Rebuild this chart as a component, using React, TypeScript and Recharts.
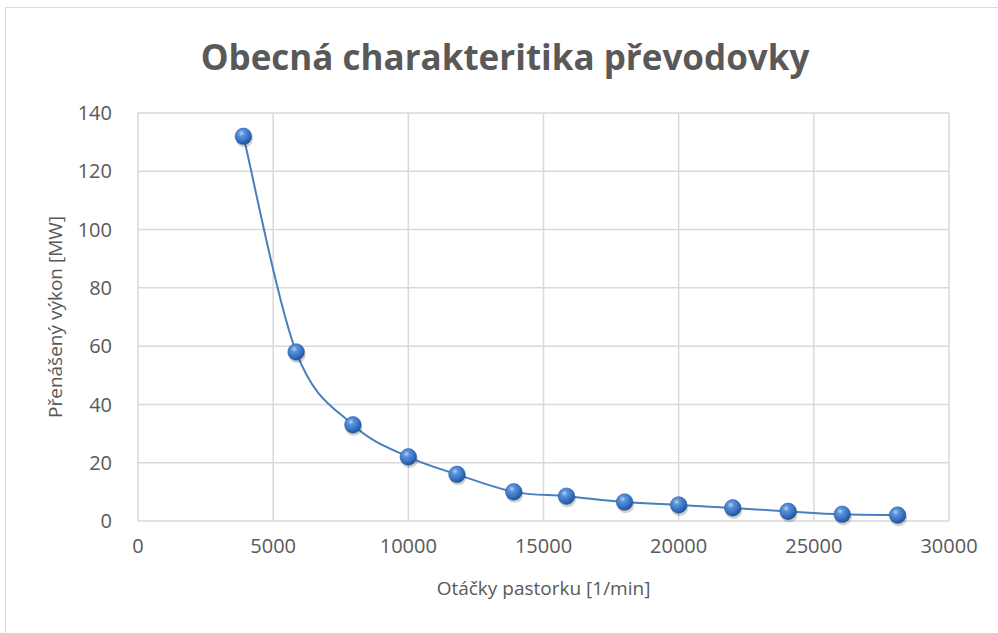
import React from "react";
import { LineChart, Line, XAxis, YAxis, CartesianGrid, Label } from "recharts";

const rpm = [3900, 5850, 7950, 10000, 11800, 13900, 15850, 18000, 20000, 22000, 24050, 26050, 28100];
const power = [132, 58, 33, 22, 16, 10, 8.5, 6.5, 5.5, 4.5, 3.3, 2.3, 2];
const xTicks = [0, 5000, 10000, 15000, 20000, 25000, 30000];
const yTicks = [0, 20, 40, 60, 80, 100, 120, 140];

const data = rpm.map((x, i) => ({ x, y: power[i] }));

const FONT = "'Open Sans', sans-serif";
const GRAY = "#595959";

// Excel-like smoothed line (Catmull-Rom style bezier)
const excelCurve: any = (context: any) => {
  let pts: number[][] = [];
  return {
    areaStart() {},
    areaEnd() {},
    lineStart() {
      pts = [];
    },
    point(x: number, y: number) {
      pts.push([+x, +y]);
    },
    lineEnd() {
      const n = pts.length;
      if (!n) return;
      context.moveTo(pts[0][0], pts[0][1]);
      for (let i = 0; i < n - 1; i++) {
        const p0 = pts[Math.max(0, i - 1)];
        const p1 = pts[i];
        const p2 = pts[i + 1];
        const p3 = pts[Math.min(n - 1, i + 2)];
        const c1x = p1[0] + (p2[0] - p0[0]) / 6;
        const c1y = p1[1] + (p2[1] - p0[1]) / 6;
        const c2x = p2[0] - (p3[0] - p1[0]) / 6;
        const c2y = p2[1] - (p3[1] - p1[1]) / 6;
        context.bezierCurveTo(c1x, c1y, c2x, c2y, p2[0], p2[1]);
      }
    },
  };
};

const Ball = (props: any) => {
  const { cx, cy, index } = props;
  if (cx == null || cy == null) return null;
  return (
    <g key={`dot-${index}`}>
      <ellipse cx={cx + 1} cy={cy + 3} rx={8.5} ry={8} fill="rgba(0,0,0,0.18)" />
      <circle cx={cx} cy={cy} r={8.3} fill="url(#ballGrad)" stroke="#2d5f9e" strokeWidth={0.6} />
    </g>
  );
};

export default function App() {
  return (
    <div style={{ position: "absolute", left: 0, top: 0, width: 998, height: 633, background: "#fff" }}>
      <div
        style={{
          position: "absolute",
          left: 5,
          top: 7,
          width: 1000,
          height: 640,
          borderLeft: "1.5px solid #d9d9d9",
          borderTop: "1.5px solid #d9d9d9",
        }}
      />
      <div
        style={{
          position: "absolute",
          left: 0,
          top: 33,
          width: 1010,
          textAlign: "center",
          fontFamily: FONT,
          fontWeight: 700,
          fontSize: 35,
          color: GRAY,
        }}
      >
        Obecná charakteritika převodovky
      </div>
      <div style={{ position: "absolute", left: 0, top: 0 }}>
        <LineChart width={998} height={633} data={data} margin={{ top: 113, right: 49, bottom: 52, left: 78 }}>
          <defs>
            <radialGradient id="ballGrad" cx="38%" cy="32%" r="70%">
              <stop offset="0%" stopColor="#b9d4f5" />
              <stop offset="25%" stopColor="#5b93dc" />
              <stop offset="70%" stopColor="#3470c0" />
              <stop offset="100%" stopColor="#1d4f90" />
            </radialGradient>
          </defs>
          <CartesianGrid stroke="#d9d9d9" strokeWidth={1.5} horizontalValues={yTicks} verticalValues={xTicks} />
          <XAxis
            dataKey="x"
            type="number"
            domain={[0, 30000]}
            ticks={xTicks}
            axisLine={false}
            tickLine={false}
            tick={{ fill: GRAY, fontSize: 20, fontFamily: FONT }}
            tickMargin={12}
            height={60}
          >
            <Label
              value="Otáčky pastorku [1/min]"
              position="insideBottom"
              offset={-14}
              style={{ fill: GRAY, fontSize: 19, fontFamily: FONT }}
            />
          </XAxis>
          <YAxis
            type="number"
            domain={[0, 140]}
            ticks={yTicks}
            axisLine={false}
            tickLine={false}
            width={60}
            tick={{ fill: GRAY, fontSize: 20, fontFamily: FONT }}
            tickMargin={20}
          >
            <Label
              value="Přenášený výkon [MW]"
              angle={-90}
              position="center"
              dx={-53}
              style={{ fill: GRAY, fontSize: 19, fontFamily: FONT, textAnchor: "middle" }}
            />
          </YAxis>
          <Line
            type={excelCurve}
            dataKey="y"
            stroke="#4a7ebf"
            strokeWidth={2}
            dot={<Ball />}
            activeDot={false}
            isAnimationActive={false}
          />
        </LineChart>
      </div>
    </div>
  );
}
